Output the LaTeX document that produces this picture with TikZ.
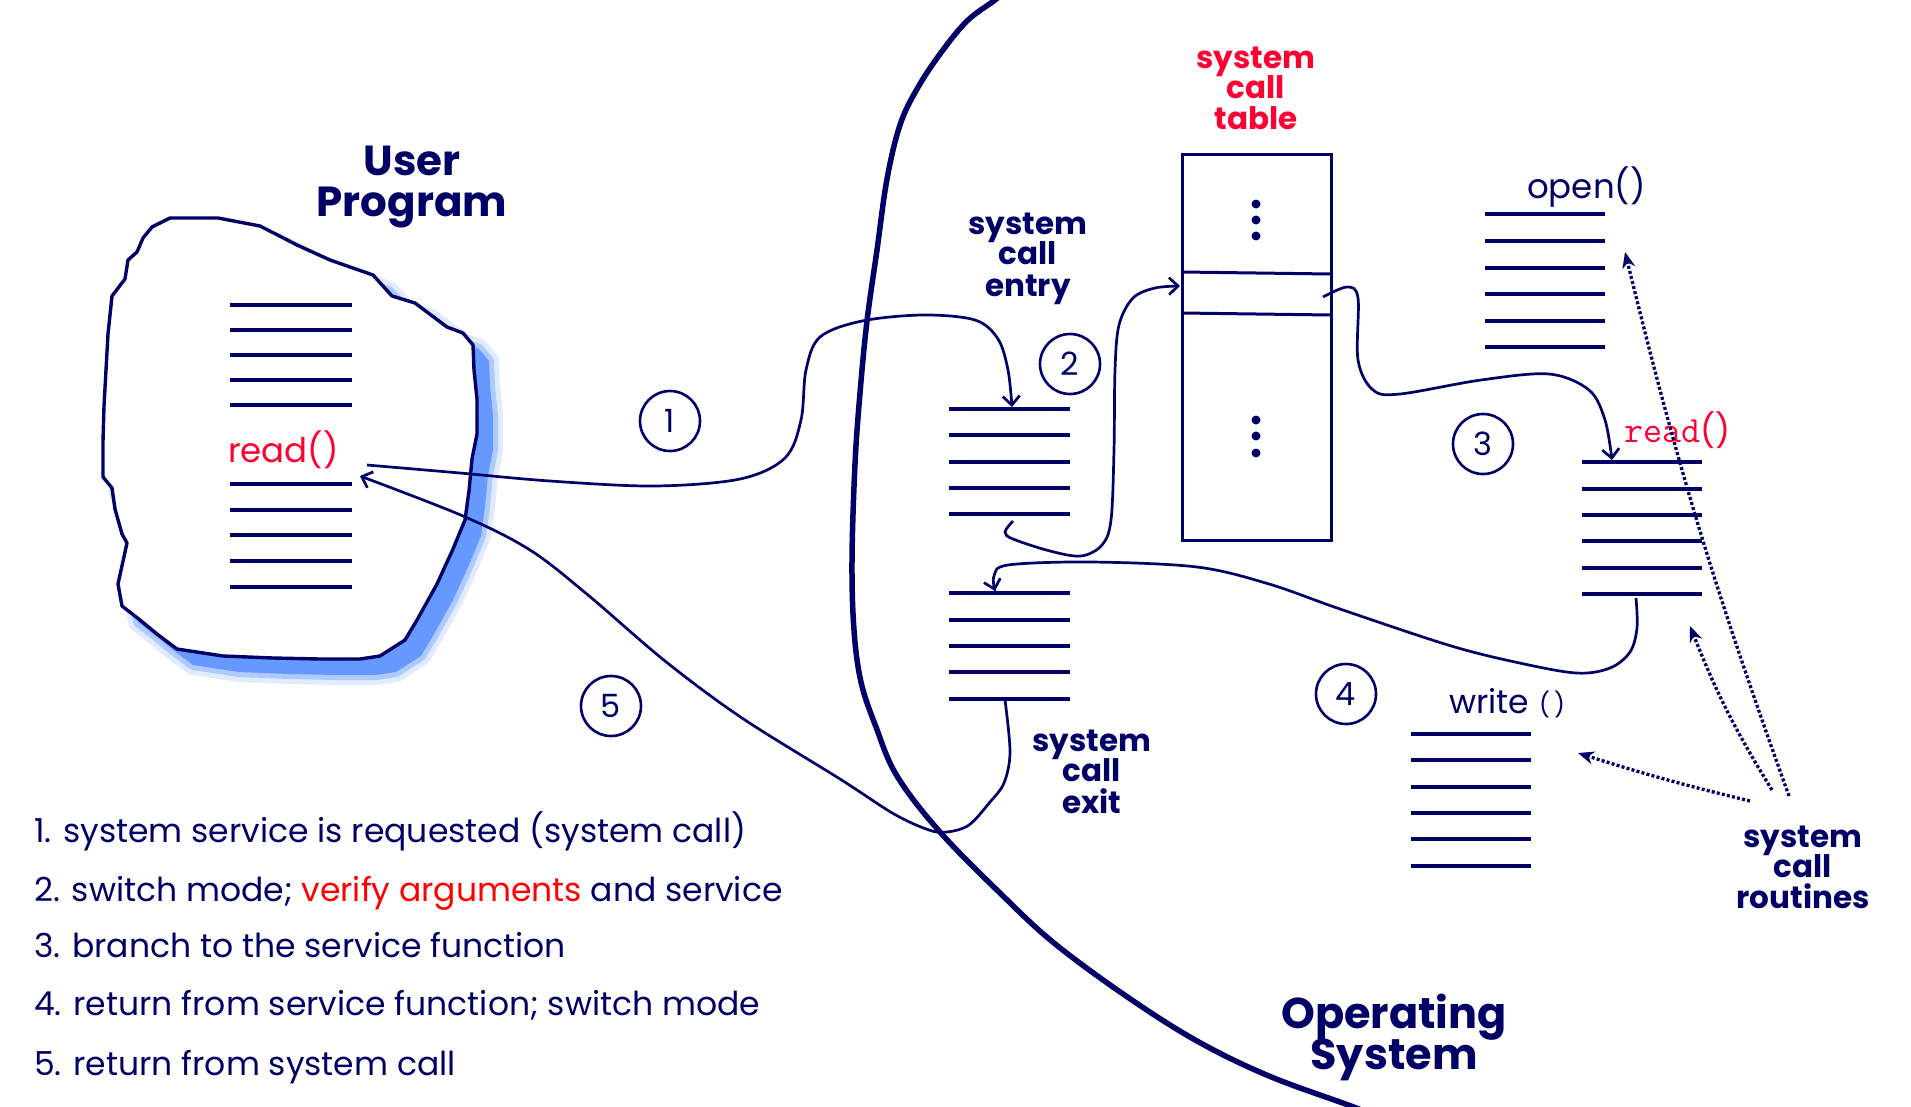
\documentclass[tikz,border=0pt]{standalone}
\usepackage{fontspec}
\setmainfont{Poppins}
\usetikzlibrary{arrows.meta}
\definecolor{navy}{RGB}{0,0,102}
\definecolor{tred}{RGB}{255,0,51}
\definecolor{lred}{RGB}{255,0,0}
\definecolor{shblue}{RGB}{102,153,255}
\newcommand\upblob{(170,218) -- (218,218) -- (260,226) -- (297,245) -- (330,260) -- (373,275) -- (392,296) -- (415,303) -- (447,327) -- (463,333) -- (473,345) -- (474,370) -- (477,399) -- (477,434) -- (472,459) -- (469,491) -- (465,520) -- (453,549) -- (437,584) -- (417,620) -- (405,640) -- (380,656) -- (360,659) -- (320,659) -- (273,658) -- (223,656) -- (177,649) -- (157,634) -- (140,620) -- (122,606) -- (118,584) -- (127,543) -- (122,534) -- (115,509) -- (112,488) -- (103,477) -- (103,441) -- (104,406) -- (106,370) -- (108,334) -- (112,296) -- (125,279) -- (128,260) -- (137,252) -- (143,238) -- (152,227) -- cycle}
\tikzset{
  codeln/.style={navy, line width=3.2pt},
  conn/.style={navy, line width=2.7pt, -{Straight Barb[length=9pt,width=17pt,line width=2.7pt]}},
  dotarrow/.style={navy, line width=3.3pt, dash pattern=on 3pt off 2.2pt, -{Stealth[length=16pt,width=13pt]}},
  num/.style={circle, draw=navy, line width=2.6pt, minimum size=60pt, inner sep=0pt, text=navy, font=\fontsize{32}{32}\selectfont},
  blabel/.style={text=navy, font=\fontsize{31}{31}\selectfont\bfseries, anchor=base, inner sep=0pt},
  rlabel/.style={text=tred, font=\fontsize{31}{31}\selectfont\bfseries, anchor=base, inner sep=0pt},
  biglabel/.style={text=navy, font=\fontsize{42}{40}\selectfont\bfseries, anchor=base, inner sep=0pt},
  legend/.style={text=navy, font=\fontsize{33}{33}\selectfont, anchor=base west, inner sep=0pt},
  fname/.style={text=navy, font=\fontsize{34}{34}\selectfont, anchor=base west, inner sep=0pt},
}
\begin{document}
\begin{tikzpicture}[x=1pt,y=-1pt]
\useasboundingbox (0,0) rectangle (1911,1106);
\clip (0,0) rectangle (1911,1106);
% shadow of user program blob
\begin{scope}[shift={(16,16)}]
  \draw[shblue, line width=20pt, opacity=0.2, line join=round] \upblob;
  \draw[shblue, line width=10pt, opacity=0.4, line join=round] \upblob;
  \fill[shblue] \upblob;
\end{scope}
\filldraw[fill=white, draw=navy, line width=3.4pt, line join=round] \upblob;
% User program code lines
\foreach \yy in {305,330,355,380,405,484,510,535,561,587}
  \draw[codeln] (230,\yy) -- (352,\yy);
\node[biglabel] (userA) at (412,175) {User};
\node[biglabel] (userB) at (412,216) {Program};
\node[text=tred, font=\fontsize{34}{34}\selectfont, anchor=base west, inner sep=0pt] (uread) at (228,462) {read()};
% OS boundary
\draw[navy, line width=5.5pt] plot[smooth, tension=0.6] coordinates {(1020,-20) (995,0) (967,21) (940,54) (917,89) (900,125) (887,179) (877,250) (867,321) (860,393) (855,464) (852,560) (854,630) (861,682) (876,727) (897,776) (940,832) (1001,894) (1054,943) (1126,996) (1197,1041) (1269,1076) (1351,1106) (1400,1125)};
% entry / exit code lines
\foreach \yy in {409,435,462,488,514}
  \draw[codeln] (949,\yy) -- (1070,\yy);
\foreach \yy in {593,620,646,672,699}
  \draw[codeln] (949,\yy) -- (1070,\yy);
\coordinate (entrytop) at (1012,407);
\coordinate (entrybot) at (1013,521);
\coordinate (exittop) at (995,591);
\coordinate (exitbot) at (1005,700);
\node[blabel] (entA) at (1028,234) {system};
\node[blabel] (entB) at (1028,264) {call};
\node[blabel] (entC) at (1028,296) {entry};
\node[blabel] (exA) at (1092,751) {system};
\node[blabel] (exB) at (1092,781) {call};
\node[blabel] (exC) at (1092,813) {exit};
% system call table
\draw[navy, line width=3pt] (1182,154) rectangle (1331,540);
\draw[navy, line width=3pt] (1182,272) -- (1331,274);
\draw[navy, line width=3pt] (1182,313) -- (1331,315);
\foreach \yy in {204,220,236,420,436,453}
  \fill[navy] (1256,\yy) circle (4.5);
\coordinate (tabin) at (1180,286);
\coordinate (tabout) at (1323,297);
\node[rlabel] (tabA) at (1256,68) {system};
\node[rlabel] (tabB) at (1256,98) {call};
\node[rlabel] (tabC) at (1256,129) {table};
% open()
\node[fname] (openl) at (1527,198) {open()};
\foreach \yy in {214,241,268,294,321,347}
  \draw[codeln] (1485,\yy) -- (1605,\yy);
% read()
\node[text=tred, font=\fontsize{37}{37}\ttfamily, anchor=base west, inner sep=0pt] (rreadA) at (1624,442) {read};
\node[text=tred, font=\fontsize{33}{33}\selectfont, anchor=base west, inner sep=0pt] (rreadB) at (rreadA.base east) {()};
\foreach \yy in {462,489,515,541,568,594}
  \draw[codeln] (1582,\yy) -- (1702,\yy);
\coordinate (readtop) at (1612,460);
\coordinate (readbot) at (1636,598);
% write()
\node[fname, font=\fontsize{33}{33}\selectfont] (writel) at (1449,713) {write};
\node[text=navy, font=\fontsize{24}{24}\selectfont, anchor=base west, inner sep=0pt] (writep) at (1539,713) {(\,)};
\foreach \yy in {734,760,787,813,839,866}
  \draw[codeln] (1411,\yy) -- (1531,\yy);
% routines label
\node[blabel] (routA) at (1803,847) {system};
\node[blabel] (routB) at (1803,877) {call};
\node[blabel] (routC) at (1803,908) {routines};
\coordinate (dA) at (1789,796);
\coordinate (dB) at (1772,790);
\coordinate (dC) at (1750,801);
\coordinate (openpt) at (1625,252);
\coordinate (readpt) at (1690,626);
\coordinate (writept) at (1578,753);
\draw[dotarrow] (dA) to[bend left=3] (openpt);
\draw[dotarrow] (dB) to[bend left=5] (readpt);
\draw[dotarrow] (dC) to[bend left=2] (writept);
% OS label
\node[biglabel, font=\fontsize{43}{40}\selectfont\bfseries] (osA) at (1394,1028) {Operating};
\node[biglabel, font=\fontsize{43}{40}\selectfont\bfseries] (osB) at (1394,1069) {System};
% step circles
\node[num] (n1) at (670,421) {1};
\node[num] (n2) at (1070,364) {2};
\node[num] (n3) at (1483,444) {3};
\node[num] (n4) at (1346,694) {4};
\node[num] (n5) at (611,706) {5};
% connectors
\coordinate (ustart) at (367,465);
\coordinate (uend) at (360,476);
\draw[conn] plot[smooth, tension=0.55] coordinates {(ustart) (460,473) (550,481) (654,486) (740,479) (785,458) (801,420) (806,370) (820,337) (862,321) (923,315) (975,320) (998,339) (1008,370) (entrytop)};
\draw[conn] plot[smooth, tension=0.55] coordinates {(entrybot) (1005,532) (1013,539) (1050,551) (1081,556) (1102,545) (1111,520) (1114,450) (1115,370) (1119,325) (1133,298) (1155,288) (tabin)};
\draw[conn] plot[smooth, tension=0.55] coordinates {(tabout) (1347,287) (1358,298) (1358,360) (1373,390) (1400,394) (1481,380) (1549,374) (1589,390) (1605,420) (readtop)};
\draw[conn] plot[smooth, tension=0.55] coordinates {(readbot) (1637,628) (1630,652) (1610,668) (1576,673) (1515,662) (1448,645) (1340,609) (1269,584) (1197,567) (1090,562) (1008,565) (994,576) (exittop)};
\draw[conn] plot[smooth, tension=0.55] coordinates {(exitbot) (1010,752) (1004,783) (990,802) (969,825) (947,832) (929,830) (894,814) (840,779) (742,718) (665,661) (588,595) (530,550) (463,516) (uend)};
% legend
\node[legend] (l1) at (34,842) {1. system service is requested (system call)};
\node[legend] (l2) at (34,901) {2. switch mode; \textcolor{lred}{verify arguments} and service};
\node[legend] (l3) at (34,957) {3. branch to the service function};
\node[legend] (l4) at (34,1015) {4. return from service function; switch mode};
\node[legend] (l5) at (34,1075) {5. return from system call};
\end{tikzpicture}
\end{document}
